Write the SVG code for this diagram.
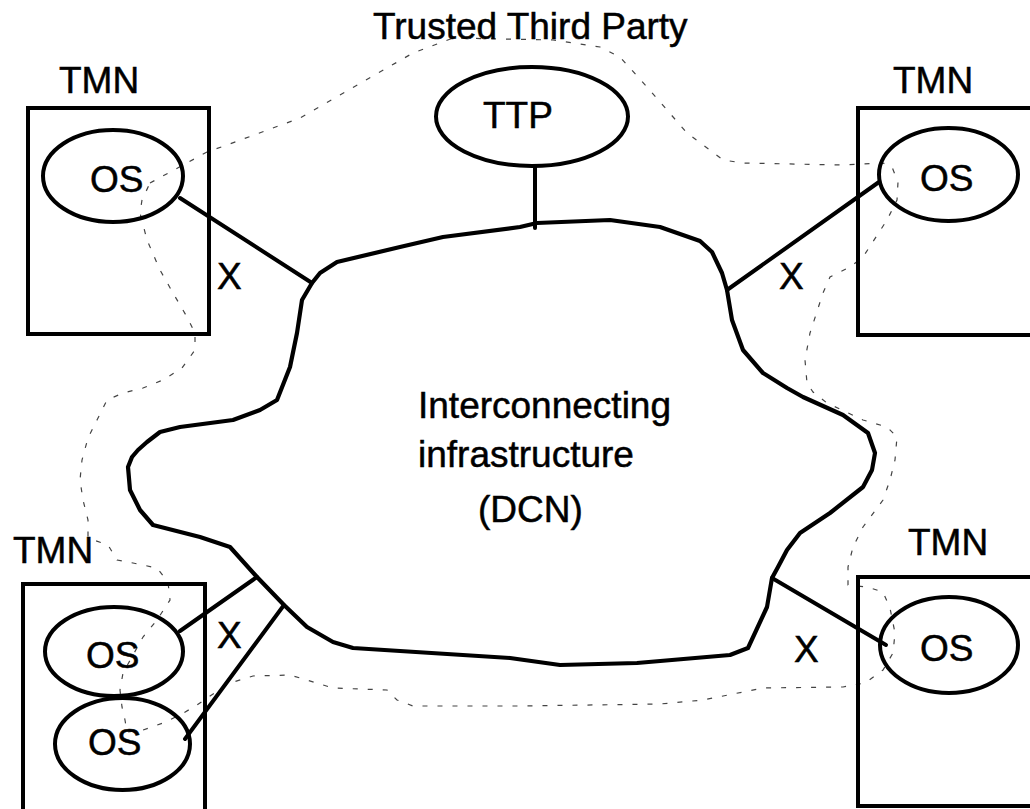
<svg xmlns="http://www.w3.org/2000/svg" width="1030" height="809" viewBox="0 0 1030 809">
<style>
text{font-family:"Liberation Sans",Arial,sans-serif;font-size:37px;fill:#000;stroke:#000;stroke-width:0.5}
.box{fill:none;stroke:#000;stroke-width:4}
.ell{fill:none;stroke:#000;stroke-width:4}
.con{stroke:#000;stroke-width:4;fill:none;stroke-linecap:round}
.cloud{fill:none;stroke:#000;stroke-width:4.2;stroke-linejoin:round}
.dom{fill:none;stroke:#444;stroke-width:1.2;stroke-dasharray:5 10}
</style>
<rect width="1030" height="809" fill="#fff"/>
<g id="trust-domain">
<path class="dom" d="M150,183 L207,152 L227,145 L300,118 L413,53 L453,38 L553,40 L600,47 L620,57 L647,87 L687,133 L723,160 L743,163 L843,165 L883,163 L892,167 L898,182 L897,200 L887,220 L863,257 L850,267 L830,277 L823,293 L810,333 L805,360 L807,383 L813,392 L827,403 L863,420 L887,427 L897,437 L895,460 L890,480 L883,500 L863,527 L853,547 L848,567 L848,585 L867,587 L883,592 L890,608 L895,633 L893,653 L883,670 L865,683 L843,687 L763,688 L743,692 L703,700 L660,704 L520,706 L413,706 L397,700 L387,690 L333,688 L290,675 L253,676 L230,683 L207,698 L197,705 L180,715 L163,723 L143,730 L127,732 L125,720 L122,707 L120,690 L123,673 L143,637 L157,620 L170,600 L168,582 L157,568 L133,563 L117,560 L108,545 L88,538 L88,520 L83,500 L80,480 L82,460 L88,438 L97,420 L107,400 L123,393 L143,388 L163,380 L182,368 L195,350 L195,333 L187,317 L173,293 L160,270 L147,240 L140,213 L142,200 Z"/>
<text x="373" y="39">Trusted Third Party</text>
</g>
<g id="dcn">
<path class="cloud" d="M312,283 L320,273 L337,262 L400,247 L443,237 L520,227 L537,223 L610,220 L660,227 L700,241 L712,252 L722,273 L727,290 L732,320 L743,350 L763,373 L787,388 L803,397 L843,415 L868,433 L875,453 L872,470 L863,487 L830,513 L800,533 L787,550 L778,567 L772,578 L767,607 L748,648 L730,655 L637,663 L560,665 L510,658 L353,648 L333,642 L307,627 L284,605 L257,577 L230,547 L200,537 L153,525 L140,510 L130,490 L128,467 L132,457 L138,450 L147,442 L160,432 L180,427 L233,420 L260,410 L277,400 L290,367 L297,333 L302,300 Z"/>
<text x="418" y="418">Interconnecting</text>
<text x="418" y="467">infrastructure</text>
<text x="478" y="522">(DCN)</text>
</g>
<g id="ttp">
<ellipse class="ell" cx="532" cy="116.5" rx="96" ry="49.5"/>
<text x="483" y="128">TTP</text>
</g>
<g id="tmn-top-left">
<text x="59" y="93">TMN</text>
<rect class="box" x="28" y="108" width="181" height="226"/>
<ellipse class="ell" cx="113" cy="176" rx="70" ry="46"/>
<text x="90" y="192">OS</text>
</g>
<g id="tmn-top-right">
<text x="893" y="93">TMN</text>
<rect class="box" x="858" y="108" width="190" height="227"/>
<ellipse class="ell" cx="948.5" cy="174.5" rx="69.5" ry="46.5"/>
<text x="920" y="191">OS</text>
</g>
<g id="tmn-bottom-left">
<text x="13" y="563">TMN</text>
<rect class="box" x="23" y="584" width="182" height="240"/>
<ellipse class="ell" cx="114" cy="651.5" rx="69" ry="44.5"/>
<text x="86" y="668">OS</text>
<ellipse class="ell" cx="122.5" cy="744" rx="67.5" ry="46"/>
<text x="88" y="755">OS</text>
</g>
<g id="tmn-bottom-right">
<text x="908" y="555">TMN</text>
<rect class="box" x="858" y="577" width="190" height="229"/>
<ellipse class="ell" cx="949" cy="645" rx="69" ry="48"/>
<text x="920" y="661">OS</text>
</g>
<g id="connectors">
<line class="con" x1="535" y1="166" x2="535" y2="228"/>
<line class="con" x1="180" y1="198" x2="312" y2="283"/>
<line class="con" x1="879" y1="182" x2="727" y2="290"/>
<line class="con" x1="180" y1="631" x2="257" y2="577"/>
<line class="con" x1="185" y1="739" x2="284" y2="605"/>
<line class="con" x1="772" y1="578" x2="886" y2="645"/>
<text x="217" y="289">X</text>
<text x="779" y="289">X</text>
<text x="217" y="648">X</text>
<text x="794" y="662">X</text>
</g>
</svg>
